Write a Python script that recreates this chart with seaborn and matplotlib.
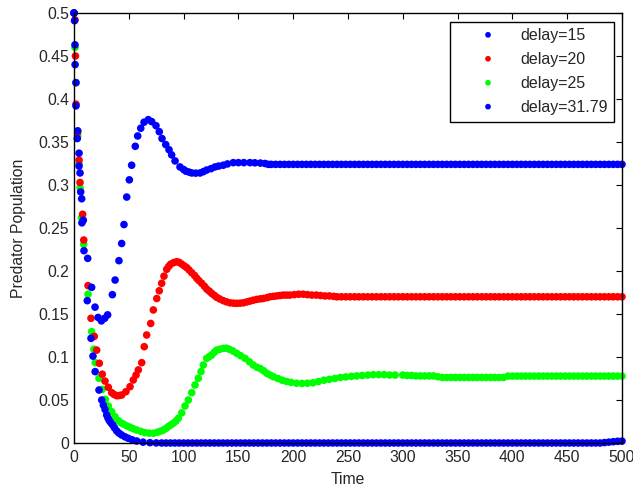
import matplotlib
matplotlib.use("Agg")
import matplotlib.pyplot as plt
import pandas as pd
import seaborn as sns

# ---------------- data ----------------
LABELS = ["delay=15", "delay=20", "delay=25", "delay=31.79"]
COLORS = ["#0000ff", "#ff0000", "#00ff00", "#0000ff"]

# delay = 15
T15 = [0, 0.9, 1.8, 3.4, 4.6, 5.5, 7.0, 8.5, 12.5, 16.1, 19.2, 22.0, 25.0, 28.0,
       30.7, 35.0, 37.5, 41.0, 43.5, 45.6, 48.1, 50.5, 52.6, 55.9, 58.1, 60.9,
       63.9, 67.8, 70.9, 74.8, 77.8, 80.3, 83.7, 86.7, 89.1, 92.2, 96.7, 100.0,
       102.2, 105.0, 107.4, 111.0, 115.0, 118.0, 121.0, 125.0, 128.6, 132.0,
       136.2, 140.0, 145.3, 150.0, 155.0, 160.6, 165.0, 170.0, 174.3, 177.3]
P15 = [0.5, 0.463, 0.419, 0.363, 0.337, 0.314, 0.284, 0.259, 0.2147, 0.181,
       0.158, 0.146, 0.142, 0.145, 0.149, 0.1725, 0.1895, 0.212, 0.232, 0.254,
       0.286, 0.306, 0.323, 0.345, 0.357, 0.366, 0.373, 0.376, 0.3737, 0.369,
       0.362, 0.354, 0.347, 0.341, 0.335, 0.328, 0.321, 0.318, 0.316, 0.315,
       0.314, 0.3138, 0.314, 0.3155, 0.3174, 0.319, 0.321, 0.322, 0.323, 0.3245,
       0.326, 0.326, 0.326, 0.326, 0.3258, 0.3255, 0.325, 0.324]
T15_TAIL = list(range(180, 501, 4))
P15_TAIL = [0.324, 0.324, 0.324, 0.324, 0.324, 0.324, 0.324, 0.324, 0.324,
            0.324, 0.324, 0.324, 0.324, 0.324, 0.324, 0.324, 0.324, 0.324,
            0.324, 0.324, 0.324, 0.324, 0.324, 0.324, 0.324, 0.324, 0.324,
            0.324, 0.324, 0.324, 0.324, 0.324, 0.324, 0.324, 0.324, 0.324,
            0.324, 0.324, 0.324, 0.324, 0.324, 0.324, 0.324, 0.324, 0.324,
            0.324, 0.324, 0.324, 0.324, 0.324, 0.324, 0.324, 0.324, 0.324,
            0.324, 0.324, 0.324, 0.324, 0.324, 0.324, 0.324, 0.324, 0.324,
            0.324, 0.324, 0.324, 0.324, 0.324, 0.324, 0.324, 0.324, 0.324,
            0.324, 0.324, 0.324, 0.324, 0.324, 0.324, 0.324, 0.324, 0.324]

# delay = 20
T20 = [0, 0.9, 1.3, 1.8, 3.3, 4.6, 5.5, 7.9, 8.9, 12.8, 15.5, 18.5, 20.7, 23.1,
       25.8, 28.3, 31.3, 34.4, 36.5, 39.0, 41.3, 43.5, 47.4, 51.1, 54.1, 56.6,
       58.7, 61.8, 64.1, 66.3, 70.0, 72.4, 75.5, 77.8, 80.0, 82.1, 84.6, 86.5,
       88.2, 91.0, 93.7, 96.0, 98.3, 100.5, 102.8, 105.0, 107.4, 110.0, 112.0,
       114.0, 116.5, 119.0, 121.1, 123.5, 125.6, 128.0, 130.2, 133.0, 136.2,
       139.0, 142.3, 145.5, 148.4, 151.5, 154.5, 157.5, 160.6, 163.5, 166.7,
       170.0, 172.7, 176.0, 178.8, 182.0, 185.0, 188.0, 191.0, 194.0, 197.0,
       201.0, 205.0, 209.0, 213.0, 217.0, 221.0, 225.0, 229.0, 233.0, 237.0]
P20 = [0.5, 0.492, 0.45, 0.394, 0.361, 0.329, 0.303, 0.266, 0.236, 0.183, 0.145,
       0.124, 0.108, 0.0927, 0.080, 0.072, 0.0648, 0.0585, 0.0565, 0.055, 0.0552,
       0.0558, 0.0597, 0.0655, 0.0733, 0.079, 0.085, 0.0934, 0.112, 0.1256, 0.139,
       0.1547, 0.168, 0.177, 0.1857, 0.194, 0.202, 0.2055, 0.208, 0.2098, 0.2108,
       0.2100, 0.208, 0.206, 0.204, 0.2012, 0.198, 0.1948, 0.1915, 0.1888, 0.1857,
       0.1822, 0.179, 0.1765, 0.174, 0.1717, 0.1694, 0.1675, 0.1655, 0.1642, 0.163,
       0.1626, 0.1624, 0.1626, 0.163, 0.164, 0.165, 0.166, 0.167, 0.1676, 0.168,
       0.169, 0.170, 0.1705, 0.171, 0.1715, 0.172, 0.172, 0.172, 0.1725, 0.173,
       0.173, 0.1725, 0.172, 0.172, 0.1715, 0.171, 0.171, 0.1705]
T20_TAIL = list(range(240, 501, 4))
P20_TAIL = [0.170, 0.170, 0.170, 0.170, 0.170, 0.170, 0.170, 0.170, 0.170, 0.170, 0.170,
            0.170, 0.170, 0.170, 0.170, 0.170, 0.170, 0.170, 0.170, 0.170, 0.170, 0.170,
            0.170, 0.170, 0.170, 0.170, 0.170, 0.170, 0.170, 0.170, 0.170, 0.170, 0.170,
            0.170, 0.170, 0.170, 0.170, 0.170, 0.170, 0.170, 0.170, 0.170, 0.170, 0.170,
            0.170, 0.170, 0.170, 0.170, 0.170, 0.170, 0.170, 0.170, 0.170, 0.170, 0.170,
            0.170, 0.170, 0.170, 0.170, 0.170, 0.170, 0.170, 0.170, 0.170, 0.170, 0.170]

# delay = 25
T25 = [0, 0.9, 1.8, 3.4, 4.6, 5.5, 6.8, 8.9, 12.8, 16.1, 18.2, 19.4, 22.8, 25.8,
       28.6, 31.3, 34.4, 37.4, 40.4, 42.5, 45.0, 48.0, 51.1, 54.0, 57.2, 61.0,
       64.8, 68.5, 72.4, 76.0, 79.0, 81.5, 84.0, 86.0, 88.3, 90.6, 93.0, 95.2,
       98.3, 101.3, 104.3, 107.4, 110.4, 113.4, 115.9, 118.0, 121.1, 123.5, 125.6,
       128.0, 130.2, 133.0, 136.2, 139.0, 141.7, 145.0, 148.4, 152.0, 156.0,
       160.0, 163.6, 167.0, 170.0, 173.0, 176.0, 179.0, 182.0, 186.0, 190.0,
       194.0, 198.0, 203.0, 208.0, 213.0, 218.0, 223.0, 228.0, 233.0, 238.0,
       243.0, 248.0, 253.0, 258.0, 263.0, 268.0, 273.0, 278.0, 283.0, 288.0, 293.0]
P25 = [0.5, 0.46, 0.419, 0.357, 0.325, 0.297, 0.262, 0.231, 0.173, 0.1295, 0.109,
       0.0934, 0.0752, 0.0624, 0.0508, 0.043, 0.0364, 0.0306, 0.026, 0.0238,
       0.0221, 0.020, 0.0183, 0.0166, 0.0151, 0.0135, 0.012, 0.0115, 0.0113,
       0.0125, 0.0138, 0.0151, 0.017, 0.019, 0.021, 0.023, 0.0255, 0.0287, 0.035,
       0.043, 0.05, 0.0585, 0.0674, 0.0752, 0.083, 0.0907, 0.0985, 0.1005, 0.1023,
       0.1055, 0.108, 0.109, 0.110, 0.1102, 0.109, 0.107, 0.1043, 0.1015, 0.0985,
       0.0945, 0.0907, 0.088, 0.0865, 0.084, 0.081, 0.079, 0.077, 0.075, 0.073,
       0.0715, 0.0705, 0.0695, 0.0692, 0.0695, 0.070, 0.0715, 0.073, 0.074, 0.075,
       0.0762, 0.0768, 0.0775, 0.078, 0.0785, 0.079, 0.0795, 0.0795, 0.0795,
       0.079, 0.079]
T25_TAIL = list(range(300, 501, 4))
P25_TAIL = [0.079, 0.0785, 0.0785, 0.078, 0.078, 0.078, 0.078, 0.078, 0.077,
            0.0762, 0.0762, 0.0762, 0.0762, 0.0762, 0.0762, 0.0762, 0.0762,
            0.0762, 0.0762, 0.0762, 0.0762, 0.0762, 0.0762, 0.0762,
            0.0778, 0.0778, 0.0778, 0.0778, 0.0778, 0.0778, 0.0778, 0.0778, 0.0778,
            0.0778, 0.0778, 0.0778, 0.0778, 0.0778, 0.0778, 0.0778, 0.0778, 0.0778,
            0.0778, 0.0778, 0.0778, 0.0778, 0.0778, 0.0778, 0.0778, 0.0778, 0.0778]

# delay = 31.79
T31 = [0, 0.5, 1.0, 1.8, 3.0, 4.6, 6.1, 7.2, 9.1, 12.1, 15.5, 17.3, 19.3, 22.8,
       25.3, 26.8, 28.3, 29.8, 31.0, 32.2, 33.7, 35.3, 37.0, 39.0, 41.0, 43.5,
       46.5, 49.5, 53.0, 57.2, 63.0, 69.3, 75.0]
P31 = [0.5, 0.491, 0.44, 0.392, 0.354, 0.322, 0.292, 0.256, 0.2236, 0.1655,
       0.1217, 0.101, 0.083, 0.0616, 0.05, 0.044, 0.039, 0.0326, 0.029, 0.026,
       0.0235, 0.021, 0.0175, 0.014, 0.0115, 0.0093, 0.0072, 0.0055, 0.0037,
       0.0023, 0.001, 0.0004, 0.0001]
T31_TAIL = list(range(80, 481, 4))
P31_TAIL = [0, 0, 0, 0, 0, 0, 0, 0, 0, 0, 0, 0, 0, 0, 0, 0, 0, 0, 0, 0,
            0, 0, 0, 0, 0, 0, 0, 0, 0, 0, 0, 0, 0, 0, 0, 0, 0, 0, 0, 0,
            0, 0, 0, 0, 0, 0, 0, 0, 0, 0, 0, 0, 0, 0, 0, 0, 0, 0, 0, 0,
            0, 0, 0, 0, 0, 0, 0, 0, 0, 0, 0, 0, 0, 0, 0, 0, 0, 0, 0, 0,
            0, 0, 0, 0, 0, 0, 0, 0, 0, 0, 0, 0, 0, 0, 0, 0, 0, 0, 0, 0,
            0]
T31_END = [484, 488, 492, 496, 500]
P31_END = [0.0005, 0.001, 0.0015, 0.002, 0.0022]

X_TICKS = [0, 50, 100, 150, 200, 250, 300, 350, 400, 450, 500]
Y_TICKS = [0, 0.05, 0.1, 0.15, 0.2, 0.25, 0.3, 0.35, 0.4, 0.45, 0.5]
Y_TICK_LABELS = ["0", "0.05", "0.1", "0.15", "0.2", "0.25", "0.3", "0.35",
                 "0.4", "0.45", "0.5"]

# ---------------- styling ----------------
sns.set_style("white")
plt.rcParams["font.family"] = ["Liberation Sans", "DejaVu Sans"]
plt.rcParams["font.size"] = 11
plt.rcParams["xtick.direction"] = "in"
plt.rcParams["ytick.direction"] = "in"

fig = plt.figure(figsize=(6.33, 4.88), dpi=100)
ax = fig.add_axes([74 / 633, 45 / 488, 548 / 633, 430 / 488])

series = [
    (LABELS[0], T15 + T15_TAIL, P15 + P15_TAIL, COLORS[0], 2.4),
    (LABELS[1], T20 + T20_TAIL, P20 + P20_TAIL, COLORS[1], 2.2),
    (LABELS[2], T25 + T25_TAIL, P25 + P25_TAIL, COLORS[2], 2.1),
    (LABELS[3], T31 + T31_TAIL + T31_END, P31 + P31_TAIL + P31_END, COLORS[3], 2.3),
]
for lab, t, p, col, z in series:
    df = pd.DataFrame({"Time": t, "Predator": p})
    sns.scatterplot(data=df, x="Time", y="Predator", color=col, s=30,
                    linewidth=0, edgecolor="none", ax=ax, label=lab,
                    zorder=z, clip_on=False)

ax.set_xlim(0, 500)
ax.set_ylim(0, 0.5)
ax.set_xticks(X_TICKS)
ax.set_xticklabels([str(v) for v in X_TICKS])
ax.set_yticks(Y_TICKS)
ax.set_yticklabels(Y_TICK_LABELS)
ax.tick_params(axis="both", which="major", length=4.5, width=0.8,
               color="black", labelsize=11.3, top=True, right=True)
ax.tick_params(axis="x", pad=5)
ax.tick_params(axis="y", pad=3.4)
for sp in ax.spines.values():
    sp.set_visible(True)
    sp.set_color("black")
    sp.set_linewidth(1.0)

ax.set_xlabel("Time", fontsize=11.3)
ax.set_ylabel("Predator Population", fontsize=11.3)
ax.xaxis.set_label_coords(0.5, -0.067)
ax.yaxis.set_label_coords(-0.0876, 0.5)

handles, labels = ax.get_legend_handles_labels()
hmap = dict(zip(labels, handles))
leg = ax.legend([hmap[l] for l in LABELS], LABELS, loc="upper right",
                bbox_to_anchor=(0.985, 0.979), borderaxespad=0,
                frameon=True, fancybox=False, framealpha=1,
                edgecolor="black", fontsize=11.5, handlelength=3.95,
                handletextpad=0.02, borderpad=0.4, labelspacing=0.56,
                scatteryoffsets=[0.5], markerscale=0.75)
leg.get_frame().set_linewidth(1.0)

fig.savefig("out.png", dpi=100)
